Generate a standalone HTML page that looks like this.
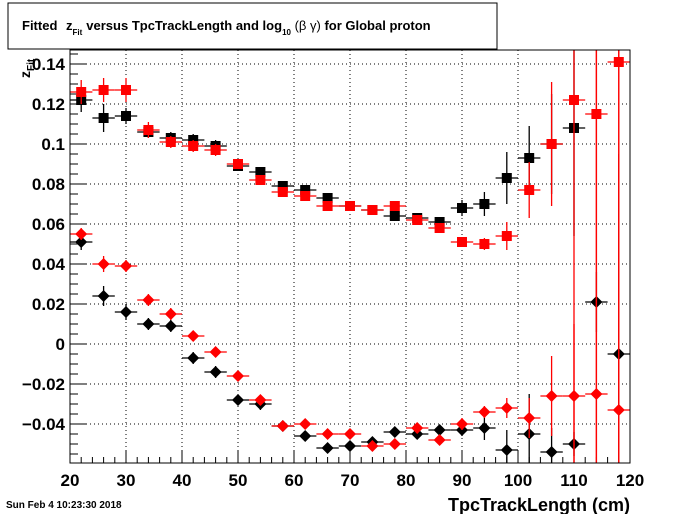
<!DOCTYPE html>
<html><head><meta charset="utf-8"><style>
body{margin:0;background:#fff;font-family:"Liberation Sans",sans-serif}
svg text{font-family:"Liberation Sans",sans-serif;font-weight:bold}
</style></head><body>
<svg id="c" width="700" height="514" xmlns="http://www.w3.org/2000/svg">
<rect x="0" y="0" width="700" height="514" fill="#fff"/>
<rect x="8" y="3" width="489" height="46" fill="#fff" stroke="#000"/>
<text x="22" y="30" font-size="13">Fitted <tspan dx="5">z</tspan><tspan font-size="8" dy="5">Fit</tspan><tspan dy="-5" dx="4">versus TpcTrackLength and log</tspan><tspan font-size="8" dy="5">10</tspan><tspan dy="-5" font-weight="normal"> (β γ)</tspan> for Global proton</text>
<g id="grid"></g><g id="axes"></g><g id="marks"></g>
<rect x="70" y="50" width="560" height="413" fill="none" stroke="#000"/>
<text x="630" y="511" font-size="18" text-anchor="end">TpcTrackLength (cm)</text>
<text transform="translate(30,78) rotate(-90)" font-size="14">z<tspan font-size="10" dy="4">Fit</tspan></text>
<text x="6" y="508" font-size="10">Sun Feb  4 10:23:30 2018</text>
</svg>
<script>
const xCenters=[22,26,30,34,38,42,46,50,54,58,62,66,70,74,78,82,86,90,94,98,102,106,110,114,118];
const blackSq=[0.122,0.113,0.114,0.106,0.103,0.102,0.099,0.089,0.086,0.079,0.077,0.073,0.069,0.067,0.064,0.063,0.061,0.068,0.070,0.083,0.093,0.100,0.108];
const blackSqErr=[0.006,0.007,0.004,0.003,0.003,0.003,0.003,0.002,0.002,0.002,0.002,0.002,0.002,0.002,0.002,0.002,0.002,0.004,0.006,0.013,0.016,0.025,0.054];
const redSq=[0.126,0.127,0.127,0.107,0.101,0.099,0.097,0.090,0.082,0.076,0.074,0.069,0.069,0.067,0.069,0.062,0.058,0.051,0.050,0.054,0.077,0.100,0.122,0.115,0.141];
const redSqErr=[0.006,0.006,0.006,0.004,0.003,0.003,0.003,0.002,0.002,0.002,0.002,0.002,0.002,0.002,0.002,0.002,0.002,0.002,0.003,0.007,0.014,0.031,0.2,0.2,0.2];
const blackDi=[0.051,0.024,0.016,0.010,0.009,-0.007,-0.014,-0.028,-0.030,-0.041,-0.046,-0.052,-0.051,-0.049,-0.044,-0.045,-0.043,-0.043,-0.042,-0.053,-0.045,-0.054,-0.050,0.021,-0.005];
const blackDiErr=[0.004,0.005,0.004,0.003,0.003,0.003,0.003,0.002,0.003,0.002,0.002,0.002,0.002,0.002,0.002,0.002,0.002,0.003,0.006,0.01,0.02,0.012,0.006,0.015,0.1];
const redDi=[0.055,0.040,0.039,0.022,0.015,0.004,-0.004,-0.016,-0.028,-0.041,-0.040,-0.045,-0.045,-0.051,-0.050,-0.042,-0.048,-0.040,-0.034,-0.032,-0.037,-0.026,-0.026,-0.025,-0.033];
const redDiErr=[0.003,0.004,0.003,0.003,0.003,0.002,0.002,0.002,0.002,0.002,0.002,0.002,0.002,0.002,0.002,0.002,0.002,0.003,0.003,0.005,0.01,0.02,0.036,0.2,0.2];
const xTicks=[20,30,40,50,60,70,80,90,100,110,120];
const yTicks=[-0.04,-0.02,0,0.02,0.04,0.06,0.08,0.1,0.12,0.14];
const yTickLabels=["\u22120.04","\u22120.02","0","0.02","0.04","0.06","0.08","0.1","0.12","0.14"];
const L=70,R=630,T=50,B=463,X0=20,X1=120,Y0=-0.0595,Y1=0.1470;
const sx=v=>L+(v-X0)/(X1-X0)*(R-L);
const sy=v=>B-(v-Y0)/(Y1-Y0)*(B-T);
const NS="http://www.w3.org/2000/svg";
function mk(t,a,p){const e=document.createElementNS(NS,t);for(const k in a)e.setAttribute(k,a[k]);p.appendChild(e);return e;}
const grid=document.getElementById('grid'),axes=document.getElementById('axes'),marks=document.getElementById('marks');
xTicks.forEach((v,i)=>{
 if(i>0&&i<xTicks.length-1){const g=mk('line',{x1:sx(v),x2:sx(v),y1:T,y2:B,stroke:'#000','stroke-dasharray':'1,3'},grid);
 
 }
 const t=mk('text',{x:sx(v),y:486,'font-size':17,'text-anchor':'middle'},axes);t.textContent=v;
 
 
});
for(let v=X0;v<=X1;v+=2){const big=(v%10===0);mk('line',{x1:sx(v),x2:sx(v),y1:B,y2:B-(big?12:6),stroke:'#000'},axes);}
yTicks.forEach((v,i)=>{
 const g=mk('line',{x1:L,x2:R,y1:sy(v),y2:sy(v),stroke:'#000','stroke-dasharray':'1,3'},grid);
 
 
 const t=mk('text',{x:65,y:sy(v)+6,'font-size':17,'text-anchor':'end'},axes);t.textContent=yTickLabels[i];
 
 
});
for(let k=-11;k<=29;k++){const v=k*0.005;if(v<Y0||v>Y1)continue;const big=(k%4===0);mk('line',{x1:L,x2:L+(big?16:8),y1:sy(v),y2:sy(v),stroke:'#000'},axes);}
function clipY(y){return Math.max(T,Math.min(B,y));}
function series(vals,errs,color,shape,name){
 vals.forEach((v,i)=>{
  const x=sx(xCenters[i]),y=sy(v);
  const g=mk('g',{},marks);
  
  
  mk('line',{x1:sx(xCenters[i]-2),x2:sx(xCenters[i]+2),y1:y,y2:y,stroke:color,'stroke-width':1.3},g);
  mk('line',{x1:x,x2:x,y1:clipY(sy(v+errs[i])),y2:clipY(sy(v-errs[i])),stroke:color,'stroke-width':1.3},g);
  if(shape==='sq')mk('rect',{x:x-5,y:y-5,width:10,height:10,fill:color},g);
  else mk('polygon',{points:`${x},${y-6} ${x+6},${y} ${x},${y+6} ${x-6},${y}`,fill:color},g);
 });
}
series(blackSq,blackSqErr,'#000','sq','black-square');
series(blackDi,blackDiErr,'#000','di','black-diamond');
series(redSq,redSqErr,'#f00','sq','red-square');
series(redDi,redDiErr,'#f00','di','red-diamond');
</script>
</body></html>
